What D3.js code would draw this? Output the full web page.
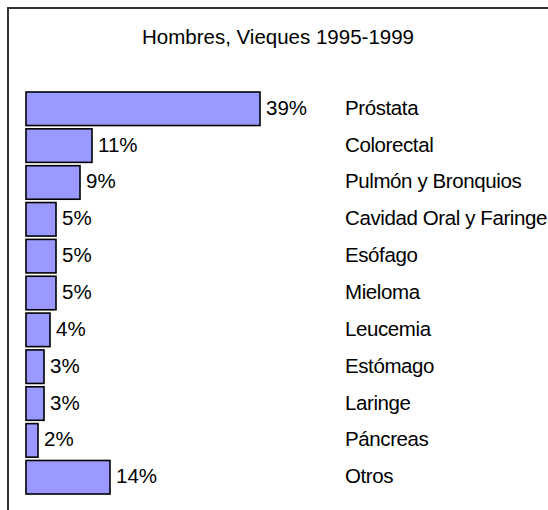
<!DOCTYPE html>
<html lang='es'>
<head>
	<meta charset='utf-8'>
	<script type='text/javascript' src='https://d3js.org/d3.v7.min.js'></script>
	<style type='text/css'>
		body { margin:0; background:#fff; }
		text { font-family: Arial, 'Liberation Sans', sans-serif; font-size:20.5px; fill:#000; }
		.cat { letter-spacing:-0.4px; }
	</style>
</head>
<body>
	<div id='chart'></div>
	<script type='text/javascript'>
		var categories = ['Próstata', 'Colorectal', 'Pulmón y Bronquios', 'Cavidad Oral y Faringe', 'Esófago',
			'Mieloma', 'Leucemia', 'Estómago', 'Laringe', 'Páncreas', 'Otros'];
		var values = [39, 11, 9, 5, 5, 5, 4, 3, 3, 2, 14];
		var title = 'Hombres, Vieques 1995-1999';

		var width = 548, height = 510;

		var svg = d3.select('#chart').append('svg')
			.attr('width', width)
			.attr('height', height);

		// frame (right and bottom edges fall outside the window)
		svg.append('rect')
			.attr('x', 8).attr('y', 8)
			.attr('width', 600).attr('height', 600)
			.style('fill', 'none')
			.style('stroke', '#333')
			.style('stroke-width', 2);

		svg.append('text')
			.attr('x', 278).attr('y', 44)
			.attr('text-anchor', 'middle')
			.text(title);

		var x = d3.scaleLinear().domain([0, 39]).range([26, 260]);
		var y = d3.scaleBand().domain(categories).range([92, 494]).paddingInner(0.09).paddingOuter(0);

		var rows = svg.selectAll('.row')
			.data(categories)
			.enter().append('g')
			.attr('class', 'row');

		rows.append('rect')
			.attr('x', x(0))
			.attr('y', function(d) { return y(d); })
			.attr('width', function(d, i) { return x(values[i]) - x(0); })
			.attr('height', y.bandwidth())
			.style('fill', '#9999ff')
			.style('stroke', '#000')
			.style('stroke-width', 1.6);

		rows.append('text')
			.attr('x', function(d, i) { return x(values[i]) + 6; })
			.attr('y', function(d) { return y(d) + y.bandwidth() / 2 + 6; })
			.text(function(d, i) { return values[i] + '%'; });

		rows.append('text')
			.attr('class', 'cat')
			.attr('x', 345)
			.attr('y', function(d) { return y(d) + y.bandwidth() / 2 + 6; })
			.text(function(d) { return d; });
	</script>
</body>
</html>
